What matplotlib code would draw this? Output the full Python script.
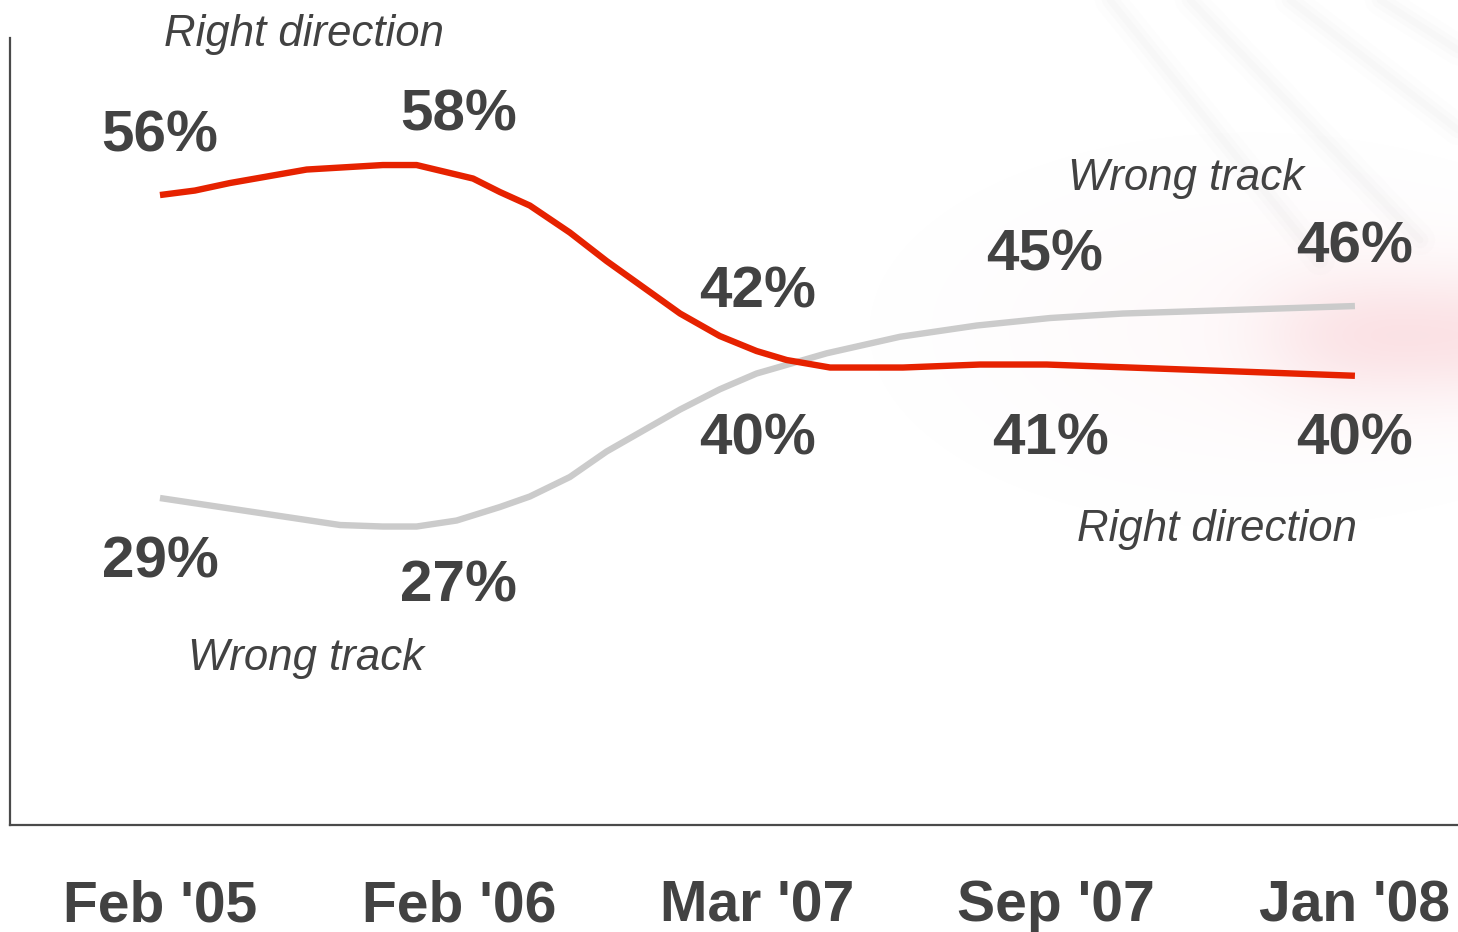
import numpy as np
import matplotlib
matplotlib.use("Agg")
import matplotlib.pyplot as plt


W, H, DPI = 1458, 932, 100

categories = ["Feb '05", "Feb '06", "Mar '07", "Sep '07", "Jan '08"]

# smoothed trend lines (x in category units, y in chart units)
right_x = [0.0, 0.117, 0.234, 0.491, 0.746, 0.859, 1.048, 1.138, 1.238, 1.372, 1.495,
           1.741, 1.874, 1.997, 2.098, 2.243, 2.487, 2.745, 2.968, 3.247, 4.0]
right_y = [56.0, 56.3, 56.8, 57.7, 58.0, 58.0, 57.1, 56.2, 55.3, 53.5, 51.6,
           48.1, 46.6, 45.6, 45.0, 44.5, 44.5, 44.7, 44.7, 44.5, 43.95]

wrong_x = [0.0, 0.603, 0.746, 0.859, 0.993, 1.138, 1.238, 1.372, 1.495, 1.741,
           1.874, 1.997, 2.232, 2.477, 2.734, 2.979, 3.223, 4.0]
wrong_y = [35.8, 34.0, 33.9, 33.9, 34.3, 35.2, 35.9, 37.2, 38.9, 41.7,
           43.05, 44.1, 45.45, 46.55, 47.3, 47.8, 48.1, 48.6]

# printed values at each survey date
right_labels = ["56%", "58%", "42%", "41%", "40%"]
wrong_labels = ["29%", "27%", "40%", "45%", "46%"]

# label layout (baseline heights in chart units)
right_label_y = [58.87, 60.33, 48.47, 38.67, 38.67]
wrong_label_y = [30.47, 28.87, 38.67, 51.0, 51.47]
right_label_x = [0.0, 1.0, 2.0, 2.98, 4.0]
wrong_label_x = [0.0, 1.0, 2.0, 2.96, 4.0]

RED = "#E62200"
GREY = "#CBCBCB"
INK = "#424242"

SANS = ["Liberation Sans", "DejaVu Sans"]

fig = plt.figure(figsize=(W / DPI, H / DPI), dpi=DPI)

# faint pink glow and streaks in the background
bg = fig.add_axes([0, 0, 1, 1], zorder=0)
bg.set_xlim(0, W)
bg.set_ylim(H, 0)
bg.axis("off")
yy, xx = np.mgrid[0:H, 0:W]
glow = np.exp(-(((xx - 1470) / 200.0) ** 4) - (((yy - 335) / 65.0) ** 2)) * 0.2
glow += np.exp(-(((xx - 1250) / 250.0) ** 2) - (((yy - 330) / 130.0) ** 2)) * 0.04
rgba = np.zeros((H, W, 4))
rgba[..., 0] = 0.93
rgba[..., 1] = 0.5
rgba[..., 2] = 0.55
rgba[..., 3] = np.clip(glow, 0, 1)
bg.imshow(rgba, extent=[0, W, H, 0], interpolation="bilinear")
for x0, x1, y1 in [(1110, 1320, 260), (1190, 1420, 240), (1290, 1458, 130), (1380, 1458, 50)]:
    for lw, a in [(22, 0.012), (12, 0.018), (5, 0.02)]:
        bg.plot([x0, x1], [0, y1], color="#8a8a8a", alpha=a, linewidth=lw,
                solid_capstyle="round")

ax = fig.add_axes([10 / W, 1 - 825 / H, 1 - 10 / W, (825 - 38) / H], zorder=1)
ax.patch.set_alpha(0)
ax.set_xlim(-0.502, 4.345)
ax.set_ylim(14.0, 66.47)

ax.plot(wrong_x, wrong_y, color=GREY, linewidth=4.6, solid_capstyle="butt", zorder=2)
ax.plot(right_x, right_y, color=RED, linewidth=4.6, solid_capstyle="butt", zorder=3)

for x, y, s in zip(right_label_x, right_label_y, right_labels):
    ax.text(x, y, s, ha="center", va="baseline", fontsize=42, fontweight="bold",
            color=INK, family=SANS)
for x, y, s in zip(wrong_label_x, wrong_label_y, wrong_labels):
    ax.text(x, y, s, ha="center", va="baseline", fontsize=42, fontweight="bold",
            color=INK, family=SANS)

series_names = [("Right direction", 0.482, 65.93), ("Wrong track", 3.434, 56.33),
                ("Right direction", 3.538, 32.93), ("Wrong track", 0.489, 24.33)]
for s, x, y in series_names:
    ax.text(x, y, s, ha="center", va="baseline", fontsize=31.5, style="italic",
            color=INK, family=SANS, clip_on=False)

ax.set_xticks(range(len(categories)))
ax.set_xticklabels(categories, fontsize=41, fontweight="bold", color=INK, family=SANS)
ax.tick_params(axis="x", length=0, pad=39)
ax.set_yticks([])
for side in ["top", "right"]:
    ax.spines[side].set_visible(False)
for side in ["left", "bottom"]:
    ax.spines[side].set_color("#4a4a4a")
    ax.spines[side].set_linewidth(1.6)

fig.savefig("out.png", dpi=DPI)
